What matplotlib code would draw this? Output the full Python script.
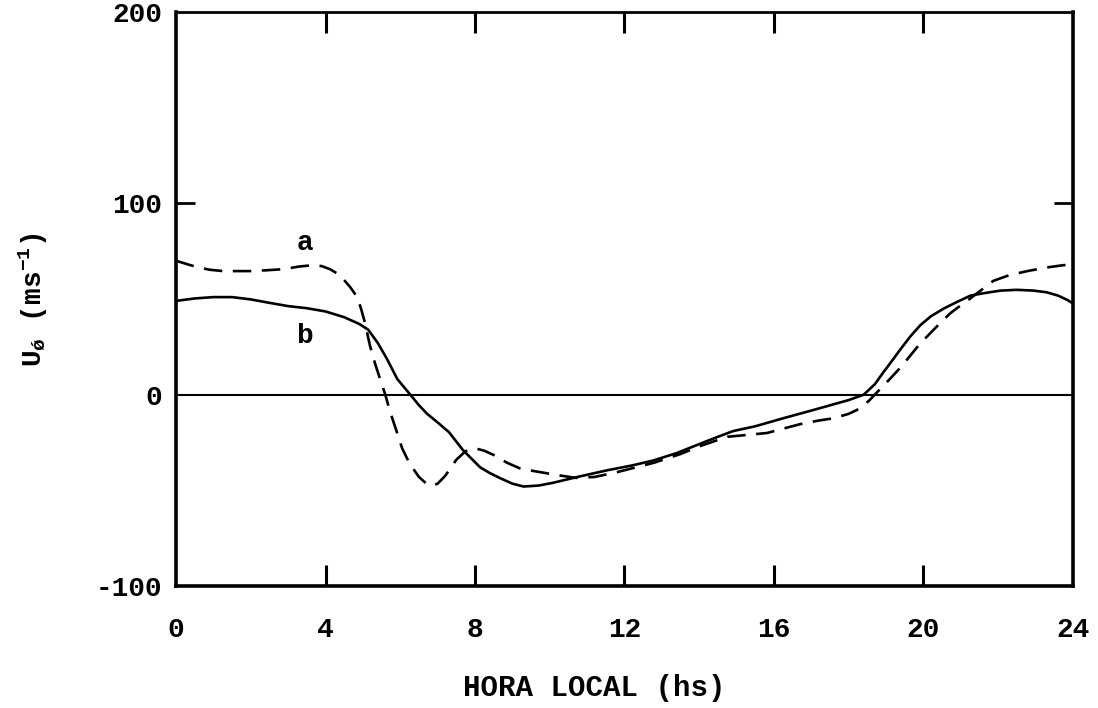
import matplotlib
matplotlib.use('Agg')
import matplotlib.pyplot as plt

plt.rcParams['font.family'] = ['Liberation Mono', 'DejaVu Sans']
plt.rcParams['font.weight'] = 'bold'
plt.rcParams['mathtext.fontset'] = 'custom'
plt.rcParams['mathtext.rm'] = 'Liberation Mono:bold'
plt.rcParams['mathtext.it'] = 'Liberation Mono:bold'
plt.rcParams['mathtext.default'] = 'rm'

# curve b (solid)
hora_b = [0.0, 0.5, 1.0, 1.5, 2.0, 2.5, 3.0, 3.5, 4.0, 4.5, 4.9, 5.14, 5.4,
          5.65, 5.92, 6.27, 6.5, 6.72, 7.0, 7.3, 7.68, 8.14, 8.4, 8.67, 9.0,
          9.3, 9.7, 10.1, 10.74, 11.54, 12.2, 12.77, 13.4, 14.03, 14.5, 14.91,
          15.5, 16.25, 17.0, 17.6, 18.0, 18.4, 18.7, 18.93, 19.15, 19.38,
          19.65, 19.92, 20.2, 20.54, 20.9, 21.26, 21.6, 22.06, 22.5, 22.95,
          23.3, 23.6, 23.85, 24.0]
u_b = [49, 50.3, 51, 51, 49.8, 48, 46.3, 45.2, 43.5, 40.5, 37, 34, 27,
       18.5, 8.2, 0, -5.5, -10, -14.5, -19.5, -29, -38, -41, -43.6, -46.5,
       -48, -47.5, -46, -43, -39.5, -37, -34.4, -30.5, -25.6, -22, -19,
       -16.5, -12.3, -8.3, -5, -2.8, 0, 5.5, 11.8, 17.5, 23.6,
       30.5, 36.4, 41, 45, 48.5, 51.8, 53, 54.4, 54.8, 54.4,
       53.5, 51.8, 49.5, 47.7]

# curve a (dashed)
hora_a = [0.0, 0.3, 0.56, 0.9, 1.26, 1.98, 2.4, 2.87, 3.3, 3.67, 3.9, 4.12,
          4.3, 4.47, 4.65, 4.85, 4.95, 5.05, 5.19, 5.33, 5.46, 5.6, 5.73, 5.9,
          6.05, 6.25, 6.5, 6.7, 6.85, 7.0, 7.2, 7.5, 7.75, 8.0, 8.25, 8.5,
          8.85, 9.2, 9.6, 9.9, 10.2, 10.7, 11.2, 11.8, 12.8, 13.5, 14.0,
          14.75, 15.3, 15.82, 16.2, 16.7, 17.2, 17.6, 18.0, 18.3, 18.55,
          18.77, 19.1, 19.4, 19.65, 19.9, 20.19, 20.45, 20.72, 20.95, 21.18,
          21.5, 21.87, 22.3, 22.78, 23.3, 23.75, 24.0]
u_a = [70, 68.2, 66.7, 65.3, 64.6, 64.6, 65, 65.6, 67, 67.7, 67.2, 65.6,
       63.5, 60.5, 56.5, 51, 45, 38, 25.6, 16, 8.2, 0, -9, -19,
       -28, -36, -43, -46.5, -47.7, -46.5, -42.5, -34, -29.5, -28, -29.3, -31.5,
       -35.5, -38.5, -40, -41, -42, -43.5, -43, -40.5, -35.5, -31, -27,
       -22, -21, -20, -18, -15.4, -13.5, -12.3, -10, -7.2, -3,
       1.5, 8.2, 14.5, 20.5, 26.5, 32.3, 37.5, 42.6, 46, 49.2,
       54, 59.5, 62.5, 64.6, 66.5, 67.7, 68]

xticks = [0, 4, 8, 12, 16, 20, 24]
yticks = [-100, 0, 100, 200]

fig = plt.figure(figsize=(10.98, 7.08), dpi=100)
ax = fig.add_axes([0.1603, 0.1723, 0.8169, 0.8107])

ax.axhline(0, color='black', lw=1.5)
ax.plot(hora_b, u_b, color='black', lw=1.9, solid_joinstyle='round')
ax.plot(hora_a, u_a, color='black', lw=1.9, dashes=(7, 4))

ax.text(3.45, 79.5, 'a', fontsize=20, ha='center', va='center')
ax.text(3.45, 30.8, 'b', fontsize=20, ha='center', va='center')

ax.set_xlim(0, 24)
ax.set_ylim(-100, 200)

# inward ticks, none drawn at the corners or on the zero line
ax.set_xticks(xticks)
ax.set_xticklabels([str(t) for t in xticks], fontsize=20)
ax.set_yticks(yticks)
ax.set_yticklabels([str(t) for t in yticks], fontsize=20)
ax.tick_params(axis='x', direction='in', length=15, width=2.2, pad=22,
               top=True)
ax.tick_params(axis='y', direction='in', length=14, width=2.0, pad=10,
               right=True)
for t in ax.xaxis.get_major_ticks():
    if t.get_loc() in (0, 24):
        t.tick1line.set_visible(False)
        t.tick2line.set_visible(False)
for t in ax.yaxis.get_major_ticks():
    if t.get_loc() in (-100, 200, 0):
        t.tick1line.set_visible(False)
        t.tick2line.set_visible(False)

for side in ['left', 'right', 'bottom']:
    ax.spines[side].set_linewidth(2.6)
ax.spines['top'].set_linewidth(2.0)

fig.text(594 / 1098, 1 - 688 / 708, 'HORA LOCAL (hs)', fontsize=21,
         ha='center', va='center')
fig.text(33 / 1098, 1 - 300 / 708, 'U$_{ǿ}$ (ms$^{-1}$)', fontsize=20,
         ha='center', va='center', rotation=90)

fig.savefig('out.png', dpi=100)
